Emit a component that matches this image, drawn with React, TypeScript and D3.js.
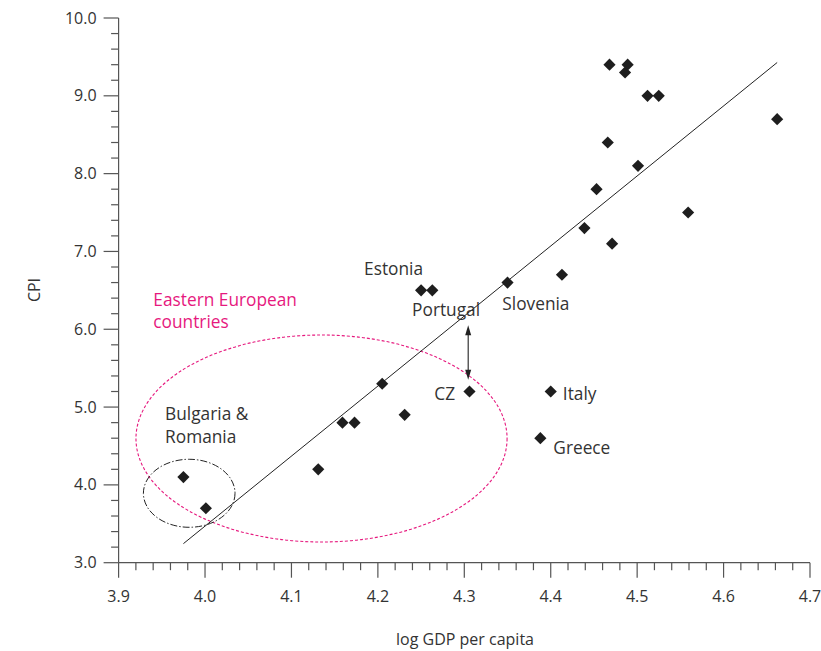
import React from 'react'
import * as d3 from 'd3'

// log GDP per capita vs CPI
const gdp = [3.975, 4.001, 4.131, 4.159, 4.173, 4.205, 4.231, 4.25, 4.263, 4.306, 4.35, 4.388, 4.4, 4.413,
  4.439, 4.453, 4.466, 4.471, 4.468, 4.486, 4.489, 4.501, 4.512, 4.525, 4.559, 4.662]
const cpi = [4.1, 3.7, 4.2, 4.8, 4.8, 5.3, 4.9, 6.5, 6.5, 5.2, 6.6, 4.6, 5.2, 6.7,
  7.3, 7.8, 8.4, 7.1, 9.4, 9.3, 9.4, 8.1, 9.0, 9.0, 7.5, 8.7]

// fitted line
const fitSlope = 9.0
const fitIntercept = -32.53
const fitRange = [3.975, 4.662]

const xTickValues = [3.9, 4.0, 4.1, 4.2, 4.3, 4.4, 4.5, 4.6, 4.7]
const yTickValues = [3, 4, 5, 6, 7, 8, 9, 10]

// country labels (anchored in data units)
const labels = [
  { text: 'Estonia', x: 4.184, y: 6.70, anchor: 'start' },
  { text: 'Portugal', x: 4.2396, y: 6.17, anchor: 'start' },
  { text: 'Slovenia', x: 4.344, y: 6.25, anchor: 'start' },
  { text: 'CZ', x: 4.2894, y: 5.09, anchor: 'end' },
  { text: 'Italy', x: 4.414, y: 5.09, anchor: 'start' },
  { text: 'Greece', x: 4.403, y: 4.393, anchor: 'start' },
  { text: 'Bulgaria &', x: 3.9538, y: 4.834, anchor: 'start' },
  { text: 'Romania', x: 3.9538, y: 4.542, anchor: 'start' },
]
const groupLabels = [
  { text: 'Eastern European', x: 3.9402, y: 6.30 },
  { text: 'countries', x: 3.9402, y: 6.013 },
]

// ellipses [cx, cy, rx, ry] in data units
const eastEllipse = [4.1348, 4.596, 0.2147, 1.33]
const bgRoEllipse = [3.9817, 3.892, 0.053, 0.437]

// arrow CZ -> Portugal line
const arrowX = 4.3045
const arrowY = [5.35, 6.05]

const W = 821
const H = 651
const font = "'Open Sans', sans-serif"
const textColor = '#333'
const axisColor = '#555'
const pink = '#e6197e'

export default function App() {
  const x = d3.scaleLinear().domain([3.9, 4.7]).range([118.6, 810])
  const y = d3.scaleLinear().domain([3, 10]).range([562.7, 18])

  const xMinor = d3.range(3.9, 4.7001, 0.02)
  const yMinor = d3.range(3, 10.001, 0.2)
  const diamond = d3.symbol(d3.symbolSquare, 74)()
  const line = d3.line<number>().x(d => x(d)).y(d => y(fitIntercept + fitSlope * d))

  const ell = (e: number[]) => ({
    cx: x(e[0]), cy: y(e[1]), rx: x(e[0] + e[2]) - x(e[0]), ry: y(e[1]) - y(e[1] + e[3]),
  })
  const e1 = ell(eastEllipse)
  const e2 = ell(bgRoEllipse)
  const ax = x(arrowX)
  const ay1 = y(arrowY[1])
  const ay2 = y(arrowY[0])

  return (
    <svg width={W} height={H} style={{ position: 'absolute', left: 0, top: 0, background: '#fff' }}
      fontFamily={font}>
      {/* axes */}
      <g stroke={axisColor} strokeWidth={1.2}>
        <line x1={x(3.9)} x2={x(4.7)} y1={y(3)} y2={y(3)} />
        <line x1={x(3.9)} x2={x(3.9)} y1={y(3)} y2={y(10)} />
        {xMinor.map((v, i) => (
          <line key={'xm' + i} x1={x(v)} x2={x(v)} y1={y(3)} y2={y(3) + (i % 5 === 0 ? 15 : 7.5)} />
        ))}
        {yMinor.map((v, i) => (
          <line key={'ym' + i} x1={x(3.9)} x2={x(3.9) - (i % 5 === 0 ? 15 : 7.5)} y1={y(v)} y2={y(v)} />
        ))}
      </g>
      <g fill={textColor} fontSize={16}>
        {xTickValues.map(v => (
          <text key={'xt' + v} x={x(v)} y={y(3) + 39} textAnchor="middle">{d3.format('.1f')(v)}</text>
        ))}
        {yTickValues.map(v => (
          <text key={'yt' + v} x={x(3.9) - 22} y={y(v) + 5.5} textAnchor="end">{d3.format('.1f')(v)}</text>
        ))}
      </g>
      <text x={465} y={645} textAnchor="middle" fill={textColor} fontSize={16}>log GDP per capita</text>
      <text transform="translate(40,290) rotate(-90)" textAnchor="middle" fill={textColor} fontSize={16}>CPI</text>

      {/* ellipses */}
      <ellipse cx={e1.cx} cy={e1.cy} rx={e1.rx} ry={e1.ry} fill="none" stroke={pink}
        strokeWidth={1.1} strokeDasharray="3,2" />
      <ellipse cx={e2.cx} cy={e2.cy} rx={e2.rx} ry={e2.ry} fill="none" stroke="#222"
        strokeWidth={1} strokeDasharray="7,2,1.5,2" />

      {/* fitted line */}
      <path d={line(fitRange) ?? ''} stroke="#222" strokeWidth={1} fill="none" />

      {/* arrow */}
      <line x1={ax} x2={ax} y1={ay1 + 6} y2={ay2 - 6} stroke="#222" strokeWidth={1.1} />
      <path d={`M${ax},${ay1} L${ax - 3},${ay1 + 10} L${ax + 3},${ay1 + 10} Z`} fill="#222" />
      <path d={`M${ax},${ay2} L${ax - 3},${ay2 - 10} L${ax + 3},${ay2 - 10} Z`} fill="#222" />

      {/* points */}
      {gdp.map((g, i) => (
        <path key={'p' + i} d={diamond ?? ''} fill="#1e1e1e"
          transform={`translate(${x(g)},${y(cpi[i])}) rotate(45)`} />
      ))}

      {/* labels */}
      <g fill={textColor} fontSize={17.3}>
        {labels.map(l => (
          <text key={l.text} x={x(l.x)} y={y(l.y)} textAnchor={l.anchor}>{l.text}</text>
        ))}
      </g>
      <g fill={pink} fontSize={17.3}>
        {groupLabels.map(l => (
          <text key={l.text} x={x(l.x)} y={y(l.y)}>{l.text}</text>
        ))}
      </g>
    </svg>
  )
}
